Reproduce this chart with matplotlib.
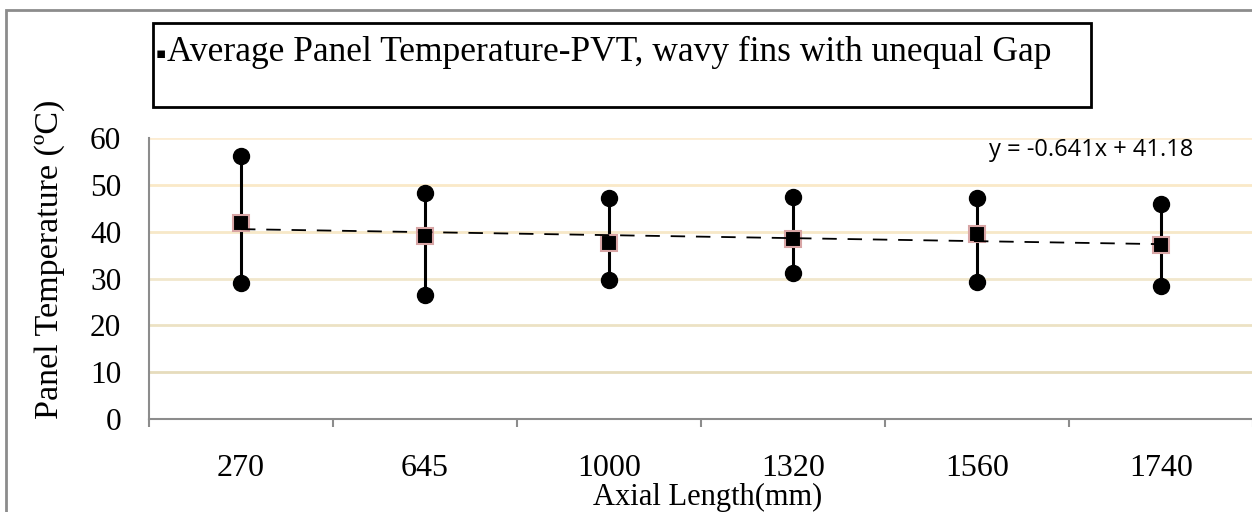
import matplotlib
matplotlib.use("Agg")
import matplotlib.pyplot as plt
from matplotlib.patches import Rectangle

categories = ["270", "645", "1000", "1320", "1560", "1740"]
high_vals = [56.2, 48.2, 47.2, 47.5, 47.1, 45.9]
low_vals = [29.1, 26.5, 29.7, 31.1, 29.3, 28.5]
avg_vals = [41.9, 39.0, 37.5, 38.5, 39.5, 37.2]
trend_slope = -0.641
trend_intercept = 41.18
y_ticks = [0, 10, 20, 30, 40, 50, 60]
grid_colors = {10: "#E6DCBC", 20: "#ECE2C4", 30: "#F1E7CC", 40: "#F7E8C8", 50: "#FAE9C8", 60: "#FCECD2"}

W, H = 1252, 512
fig = plt.figure(figsize=(W / 100, H / 100), dpi=100)
serif = ["Liberation Serif", "DejaVu Serif"]

ax = fig.add_axes([149 / W, (H - 419) / H, (1253 - 149) / W, (419 - 138) / H])
ax.set_xlim(0, len(categories))
ax.set_ylim(0, 60)

for yv, c in grid_colors.items():
    ax.axhline(yv, color=c, lw=2.0, zorder=0)

xs = [i + 0.5 for i in range(len(categories))]
for x, lo, hi in zip(xs, low_vals, high_vals):
    ax.plot([x, x], [lo, hi], color="black", lw=2.2, zorder=2)
ax.plot(xs, high_vals, "o", color="black", ms=11.5, zorder=3, ls="none")
ax.plot(xs, low_vals, "o", color="black", ms=11.5, zorder=3, ls="none")
ax.plot(xs, avg_vals, "s", color="black", mfc="black", mec="#D8A5A5", mew=1.5, ms=12, zorder=4, ls="none")

trend_x = xs
trend_y = [trend_intercept + trend_slope * (i + 1) for i in range(len(categories))]
ax.plot(trend_x, trend_y, color="black", lw=1.3, ls=(0, (8, 6)), zorder=5)

for s in ["top", "right"]:
    ax.spines[s].set_visible(False)
for s in ["left", "bottom"]:
    ax.spines[s].set_color("#8C8C8C")
    ax.spines[s].set_linewidth(1.5)

ax.set_yticks(y_ticks)
ax.set_yticklabels([str(v) for v in y_ticks], fontfamily=serif, fontsize=22.5)
ax.tick_params(axis="y", length=0, pad=20)

ax.set_xticks(range(len(categories) + 1))
ax.set_xticklabels([])
ax.tick_params(axis="x", which="major", direction="out", length=6, width=1.5, color="#8C8C8C")
ax.set_xticks(xs, minor=True)
ax.set_xticklabels(categories, minor=True, fontfamily=serif, fontsize=23)
ax.tick_params(axis="x", which="minor", length=0, pad=25)

fig.text(708 / W, (H - 497) / H, "Axial Length(mm)", ha="center", va="center", fontfamily=serif, fontsize=22)
fig.text(50 / W, (H - 259) / H, "Panel Temperature (ºC)", ha="center", va="center", rotation=90,
         fontfamily=serif, fontsize=24.5)

fig.text(1091 / W, (H - 150) / H, "y = -0.641x + 41.18", ha="center", va="center",
         fontfamily=["Open Sans", "DejaVu Sans"], fontsize=17)

# outer chart border
fig.patches.append(Rectangle((6 / W, -0.01), 1.02, (H - 10) / H + 0.01, transform=fig.transFigure,
                             fill=False, edgecolor="#8C8C8C", lw=2, zorder=0))
# legend box
fig.patches.append(Rectangle((153 / W, (H - 107) / H), (1091 - 153) / W, (107 - 23) / H,
                             transform=fig.transFigure, fill=True, facecolor="white",
                             edgecolor="black", lw=2))
fig.text(156 / W, (H - 53) / H, "▪", ha="left", va="center",
         fontfamily=["DejaVu Sans"], fontsize=11)
fig.text(167 / W, (H - 52) / H, "Average Panel Temperature-PVT, wavy fins with unequal Gap",
         ha="left", va="center", fontfamily=serif, fontsize=25.5)

fig.savefig("out.png", dpi=100)
